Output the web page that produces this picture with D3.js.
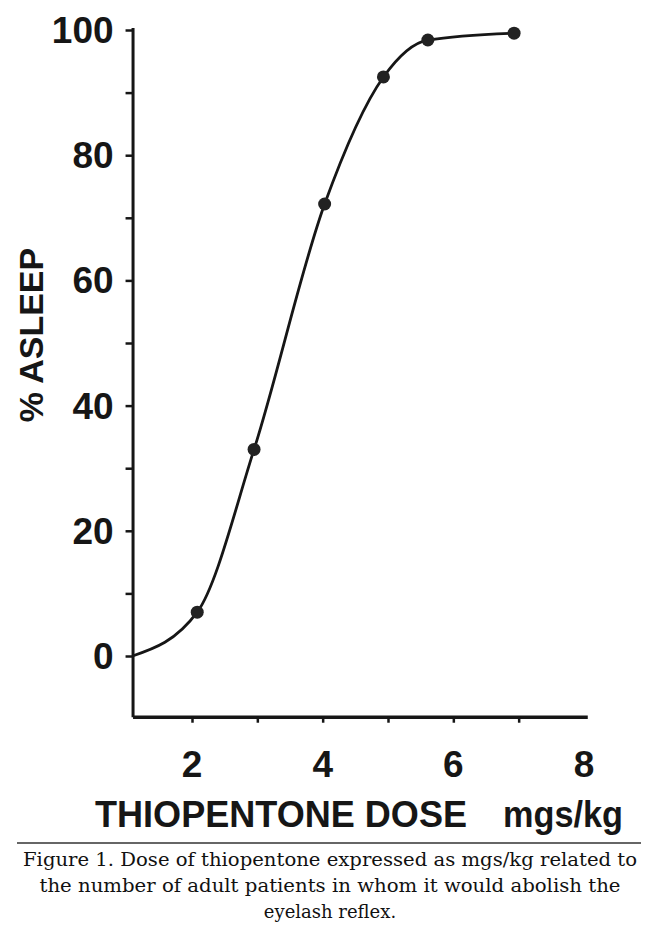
<!DOCTYPE html>
<html><head><meta charset="utf-8">
<script src="https://cdn.jsdelivr.net/npm/d3@7"></script>
<style>html,body{margin:0;padding:0;background:#fff}</style>
</head><body>
<script>
// ---- data ----
const doses = [2.08, 2.95, 4.03, 4.93, 5.61, 6.93];
const asleep = [7, 33, 72.2, 92.5, 98.4, 99.5];
const curveStartDose = [1.09];
const curveStartPct = [0];
const yTickValues = [0, 10, 20, 30, 40, 50, 60, 70, 80, 90, 100];
const yTickLabels = [0, 20, 40, 60, 80, 100];
const xTickValues = [2, 3, 4, 5, 6, 7];
const xTickLabels = [2, 4, 6, 8];
const xTitle = "THIOPENTONE DOSE";
const xUnit = "mgs/kg";
const yTitle = "% ASLEEP";
const caption = [
  "Figure 1. Dose of thiopentone expressed as mgs/kg related to",
  "the number of adult patients in whom it would abolish the",
  "eyelash reflex."
];

const W = 650, H = 937;
const svg = d3.select("body").append("svg").attr("width", W).attr("height", H);
svg.append("rect").attr("width", W).attr("height", H).attr("fill", "#fff");

const x = d3.scaleLinear().domain([2, 8]).range([192, 584]);
const y = d3.scaleLinear().domain([0, 100]).range([656, 30]);
const xMin = curveStartDose[0], xMax = 8.05, yMin = -9.7, yMax = 100.4;
const ink = "#161616";
const tickFont = "'Liberation Sans', Arial, sans-serif";

// y axis
const yAx = y.copy().domain([yMin, yMax]).range([y(yMin), y(yMax)]);
const gy = svg.append("g").attr("transform", `translate(${x(xMin)},0)`)
  .call(d3.axisLeft(yAx).tickValues(yTickValues).tickSize(7).tickSizeOuter(0).tickFormat(""));
gy.select(".domain").attr("stroke", ink).attr("stroke-width", 3);
gy.selectAll(".tick line").attr("stroke", ink).attr("stroke-width", 2.5);
gy.selectAll(".ylab").data(yTickLabels).enter().append("text")
  .attr("class", "ylab")
  .attr("x", -19).attr("y", d => y(d) + 13)
  .attr("text-anchor", "end")
  .attr("font-family", tickFont).attr("font-weight", "bold").attr("font-size", 37)
  .attr("fill", ink).text(d => d);

// x axis
const xAx = x.copy().domain([xMin, xMax]).range([x(xMin), x(xMax)]);
const gx = svg.append("g").attr("transform", `translate(0,${y(yMin)})`)
  .call(d3.axisBottom(xAx).tickValues(xTickValues).tickSize(6).tickSizeOuter(0).tickFormat(""));
gx.select(".domain").attr("stroke", ink).attr("stroke-width", 3.5);
gx.selectAll(".tick line").attr("stroke", ink).attr("stroke-width", 2.5);
gx.selectAll(".xlab").data(xTickLabels).enter().append("text")
  .attr("class", "xlab")
  .attr("x", d => x(d)).attr("y", 60)
  .attr("text-anchor", "middle")
  .attr("font-family", tickFont).attr("font-weight", "bold").attr("font-size", 37)
  .attr("fill", ink).text(d => d);

// axis titles
svg.append("text").attr("x", 95).attr("y", 827)
  .attr("font-family", tickFont).attr("font-weight", "bold").attr("font-size", 36)
  .attr("textLength", 372).attr("lengthAdjust", "spacingAndGlyphs")
  .attr("fill", ink).text(xTitle);
svg.append("text").attr("x", 503).attr("y", 827)
  .attr("font-family", tickFont).attr("font-weight", "bold").attr("font-size", 36)
  .attr("textLength", 120).attr("lengthAdjust", "spacingAndGlyphs")
  .attr("fill", ink).text(xUnit);
svg.append("text")
  .attr("transform", "translate(43,335) rotate(-90)")
  .attr("text-anchor", "middle")
  .attr("font-family", tickFont).attr("font-weight", "bold").attr("font-size", 34)
  .attr("fill", ink).text(yTitle);

// curve
const pts = curveStartDose.map((d, i) => [d, curveStartPct[i]])
  .concat(doses.map((d, i) => [d, asleep[i]]));
const line = d3.line().x(d => x(d[0])).y(d => y(d[1])).curve(d3.curveMonotoneX);
svg.append("path").datum(pts).attr("d", line)
  .attr("fill", "none").attr("stroke", ink).attr("stroke-width", 2.8);
svg.selectAll(".dot").data(doses.map((d, i) => [d, asleep[i]])).enter().append("circle")
  .attr("class", "dot")
  .attr("cx", d => x(d[0])).attr("cy", d => y(d[1])).attr("r", 6.5)
  .attr("fill", "#222");

// rule + caption
svg.append("line").attr("x1", 17).attr("x2", 641).attr("y1", 843).attr("y2", 843)
  .attr("stroke", "#333").attr("stroke-width", 1.5);
const capLen = [614, 581, null];
svg.selectAll(".cap").data(caption).enter().append("text")
  .attr("class", "cap")
  .attr("x", 330).attr("y", (d, i) => 866 + i * 26)
  .attr("text-anchor", "middle")
  .attr("font-family", "'DejaVu Serif', 'Liberation Serif', serif").attr("font-size", 18)
  .attr("fill", "#111")
  .each(function(d, i) { if (capLen[i]) d3.select(this).attr("textLength", capLen[i]).attr("lengthAdjust", "spacingAndGlyphs"); })
  .text(d => d);
</script>
</body></html>
